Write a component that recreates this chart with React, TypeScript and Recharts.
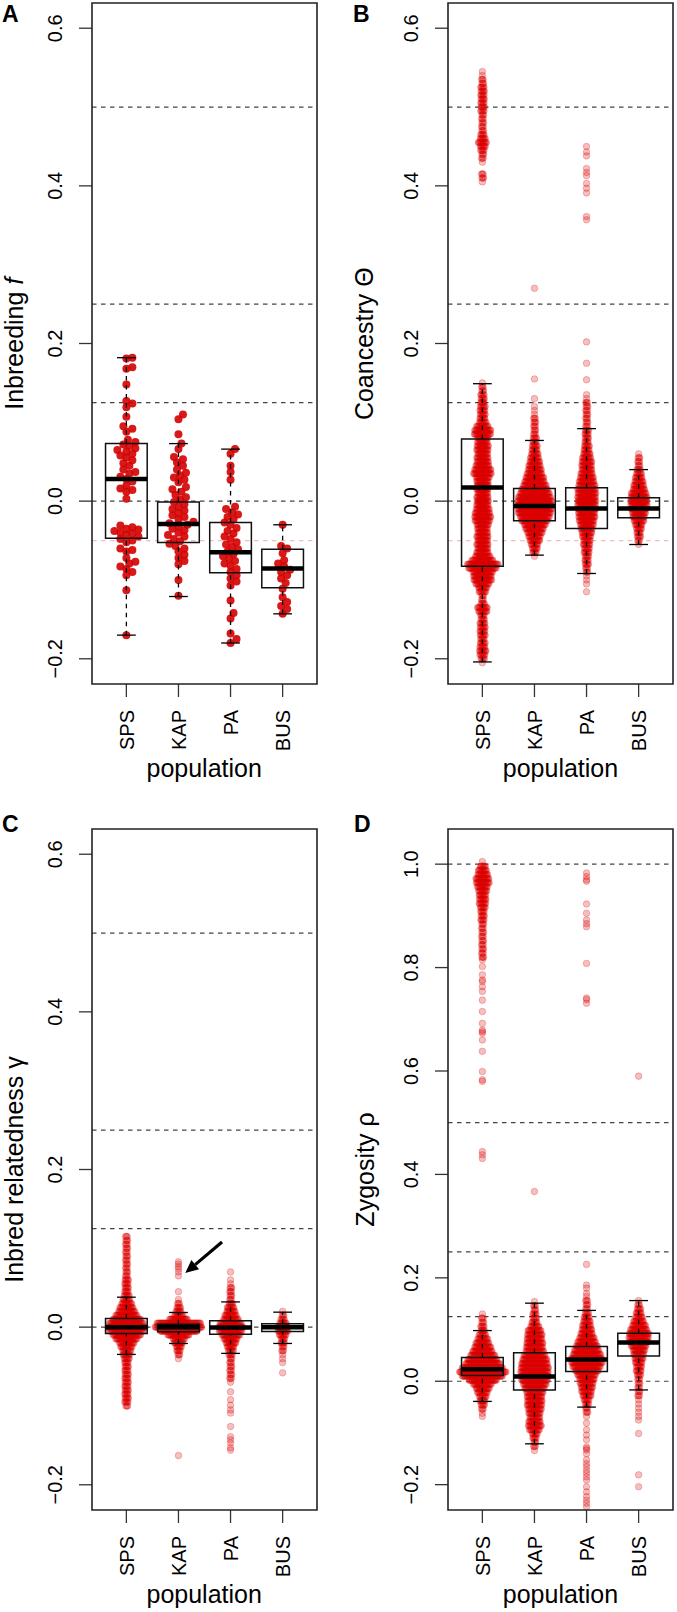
import React from "react";
import { ComposedChart, Scatter, XAxis, YAxis, ReferenceLine, ReferenceArea } from "recharts";

const FONT = '"Liberation Sans", Arial, Helvetica, sans-serif';
const groups = ["SPS", "KAP", "PA", "BUS"];

// ---- panel A: individual inbreeding f values (stripchart) ----
const spsF = [0.182, 0.181, 0.170, 0.168, 0.148, 0.127, 0.124, 0.119, 0.107, 0.095, 0.092, 0.088, 0.078, 0.075, 0.072, 0.070, 0.067, 0.065, 0.063, 0.060, 0.058, 0.055, 0.052, 0.048, 0.045, 0.040, 0.037, 0.035, 0.031, 0.028, 0.025, 0.020, 0.016, 0.014, 0.012, 0.003, -0.031, -0.033, -0.035, -0.036, -0.038, -0.040, -0.041, -0.043, -0.045, -0.048, -0.050, -0.052, -0.060, -0.062, -0.064, -0.072, -0.077, -0.079, -0.083, -0.086, -0.090, -0.094, -0.113, -0.170];
const kapF = [0.110, 0.104, 0.085, 0.073, 0.066, 0.056, 0.053, 0.049, 0.045, 0.040, 0.036, 0.033, 0.030, 0.027, 0.024, 0.018, 0.015, 0.012, 0.008, 0.005, 0.002, -0.001, -0.004, -0.007, -0.010, -0.012, -0.015, -0.018, -0.020, -0.023, -0.026, -0.028, -0.030, -0.032, -0.035, -0.037, -0.040, -0.043, -0.045, -0.048, -0.051, -0.054, -0.057, -0.060, -0.064, -0.068, -0.072, -0.076, -0.080, -0.100, -0.120];
const paF = [0.066, 0.060, 0.045, 0.037, 0.027, -0.007, -0.010, -0.014, -0.017, -0.020, -0.023, -0.027, -0.030, -0.034, -0.038, -0.041, -0.045, -0.048, -0.052, -0.055, -0.058, -0.061, -0.064, -0.067, -0.070, -0.073, -0.076, -0.079, -0.082, -0.086, -0.090, -0.094, -0.098, -0.102, -0.107, -0.126, -0.142, -0.149, -0.168, -0.175, -0.180];
const busF = [-0.030, -0.057, -0.060, -0.066, -0.075, -0.079, -0.083, -0.087, -0.090, -0.094, -0.098, -0.104, -0.111, -0.122, -0.128, -0.133, -0.137, -0.143];

// ---- panels B-D: beeswarm rows, [value, row size] ----
const spsTheta: [number, number][] = [[0.545,1],[0.54,1],[0.535,2],[0.53,2],[0.525,3],[0.52,3],[0.515,3],[0.51,3],[0.505,3],[0.5,3],[0.495,3],[0.49,2],[0.485,2],[0.48,2],[0.475,2],[0.47,2],[0.465,3],[0.46,4],[0.455,6],[0.45,4],[0.445,3],[0.44,2],[0.435,2],[0.43,1],[0.415,2],[0.41,2],[0.405,1],
  [0.15,1],[0.145,2],[0.14,2],[0.135,3],[0.13,3],[0.125,3],[0.12,4],[0.115,4],[0.11,4],[0.105,4],[0.1,5],[0.095,8],[0.09,11],[0.085,11],[0.08,7],[0.075,7],[0.07,8],[0.065,8],[0.06,7],[0.055,8],[0.05,8],[0.045,9],[0.04,11],[0.035,12],[0.03,9],[0.025,8],[0.02,8],[0.015,8],[0.01,7],[0.005,8],[0,8],[-0.005,8],[-0.01,9],[-0.015,10],[-0.02,11],[-0.025,10],[-0.03,8],[-0.035,7],[-0.04,7],[-0.045,8],[-0.05,7],[-0.055,8],[-0.06,7],[-0.065,8],[-0.07,10],[-0.075,14],[-0.08,20],[-0.085,18],[-0.09,13],[-0.095,12],[-0.1,12],[-0.105,9],[-0.11,6],[-0.115,5],[-0.12,2],[-0.125,2],[-0.13,3],[-0.135,7],[-0.14,6],[-0.145,3],[-0.15,3],[-0.155,4],[-0.16,4],[-0.165,4],[-0.17,4],[-0.175,3],[-0.18,4],[-0.185,4],[-0.19,5],[-0.195,4],[-0.2,3],[-0.205,1]];
const kapTheta: [number, number][] = [[0.27,1],[0.155,1],[0.13,1],[0.12,1],[0.115,1],[0.11,1],[0.105,2],[0.1,2],[0.095,2],[0.09,2],[0.085,2],[0.08,3],[0.075,3],[0.07,4],[0.065,4],[0.06,5],[0.055,6],[0.05,7],[0.045,8],[0.04,9],[0.035,10],[0.03,12],[0.025,13],[0.02,15],[0.015,17],[0.01,19],[0.005,21],[0,22],[-0.005,22],[-0.01,22],[-0.015,21],[-0.02,19],[-0.025,17],[-0.03,14],[-0.035,12],[-0.04,10],[-0.045,8],[-0.05,7],[-0.055,5],[-0.06,4],[-0.065,3],[-0.07,1]];
const paTheta: [number, number][] = [[0.45,1],[0.443,1],[0.438,1],[0.422,1],[0.417,1],[0.413,1],[0.403,1],[0.397,1],[0.391,1],[0.361,1],[0.357,1],[0.202,1],[0.175,1],[0.154,1],[0.135,1],[0.13,1],[0.125,2],[0.12,2],[0.115,2],[0.11,2],[0.105,2],[0.1,2],[0.095,2],[0.09,3],[0.085,3],[0.08,3],[0.075,3],[0.07,4],[0.065,4],[0.06,5],[0.055,6],[0.05,7],[0.045,7],[0.04,7],[0.035,8],[0.03,9],[0.025,10],[0.02,11],[0.015,12],[0.01,12],[0.005,12],[0,12],[-0.005,12],[-0.01,12],[-0.015,11],[-0.02,11],[-0.025,10],[-0.03,9],[-0.035,8],[-0.04,7],[-0.045,6],[-0.05,5],[-0.055,5],[-0.06,4],[-0.065,4],[-0.07,3],[-0.075,3],[-0.08,3],[-0.085,2],[-0.09,2],[-0.095,1],[-0.1,1],[-0.105,1],[-0.115,1]];
const busTheta: [number, number][] = [[0.06,1],[0.055,2],[0.05,2],[0.045,2],[0.04,3],[0.035,4],[0.03,5],[0.025,6],[0.02,7],[0.015,8],[0.01,10],[0.005,11],[0,11],[-0.005,11],[-0.01,10],[-0.015,9],[-0.02,8],[-0.025,7],[-0.03,5],[-0.035,4],[-0.04,3],[-0.045,3],[-0.05,2],[-0.055,1]];

const spsGamma: [number, number][] = [[0.115,2],[0.11,2],[0.105,2],[0.1,2],[0.095,2],[0.09,2],[0.085,2],[0.08,2],[0.075,2],[0.07,2],[0.065,2],[0.06,3],[0.055,3],[0.05,3],[0.045,3],[0.04,4],[0.035,5],[0.03,7],[0.025,9],[0.02,11],[0.015,14],[0.01,18],[0.005,22],[0,24],[-0.005,22],[-0.01,18],[-0.015,14],[-0.02,10],[-0.025,8],[-0.03,6],[-0.035,5],[-0.04,4],[-0.045,3],[-0.05,3],[-0.055,3],[-0.06,3],[-0.065,3],[-0.07,3],[-0.075,3],[-0.08,3],[-0.085,3],[-0.09,3],[-0.095,3],[-0.1,2]];
const kapGamma: [number, number][] = [[0.083,1],[0.08,1],[0.077,1],[0.074,1],[0.07,1],[0.065,1],[0.045,1],[0.035,1],[0.03,2],[0.025,3],[0.02,4],[0.015,6],[0.01,12],[0.005,28],[0,30],[-0.005,24],[-0.01,14],[-0.015,8],[-0.02,6],[-0.025,4],[-0.03,3],[-0.035,2],[-0.04,1],[-0.163,1]];
const paGamma: [number, number][] = [[0.07,1],[0.06,1],[0.055,1],[0.05,2],[0.045,2],[0.04,2],[0.035,2],[0.03,3],[0.025,5],[0.02,6],[0.015,8],[0.01,10],[0.005,14],[0,16],[-0.005,15],[-0.01,12],[-0.015,9],[-0.02,7],[-0.025,5],[-0.03,4],[-0.035,3],[-0.04,2],[-0.045,2],[-0.05,2],[-0.055,2],[-0.06,2],[-0.065,2],[-0.07,1],[-0.082,1],[-0.092,1],[-0.099,1],[-0.105,1],[-0.109,1],[-0.126,1],[-0.139,1],[-0.143,1],[-0.147,1],[-0.153,1],[-0.156,1]];
const busGamma: [number, number][] = [[0.02,1],[0.015,2],[0.01,3],[0.005,5],[0,7],[-0.005,7],[-0.01,5],[-0.015,3],[-0.02,3],[-0.025,2],[-0.03,2],[-0.035,1],[-0.04,1],[-0.045,1],[-0.058,1]];

const spsRho: [number, number][] = [[1.005,1],[0.996,4],[0.988,6],[0.98,7],[0.972,9],[0.964,9],[0.956,7],[0.948,6],[0.94,5],[0.932,5],[0.924,5],[0.916,4],[0.908,3],[0.9,3],[0.892,3],[0.884,2],[0.876,2],[0.868,2],[0.86,2],[0.852,2],[0.844,2],[0.836,2],[0.828,2],[0.82,2],[0.815,1],[0.802,1],[0.786,1],[0.776,1],[0.773,1],[0.763,1],[0.754,1],[0.737,1],[0.715,1],[0.692,1],[0.679,1],[0.676,1],[0.673,1],[0.66,1],[0.638,1],[0.599,1],[0.583,1],[0.58,1],[0.444,1],[0.438,1],[0.431,1],
  [0.13,1],[0.122,2],[0.114,2],[0.106,3],[0.098,3],[0.09,5],[0.082,7],[0.074,9],[0.066,11],[0.058,13],[0.05,16],[0.042,19],[0.034,22],[0.026,26],[0.018,30],[0.01,26],[0.002,18],[-0.006,12],[-0.014,9],[-0.022,7],[-0.03,5],[-0.038,4],[-0.046,3],[-0.054,2],[-0.062,1],[-0.068,1]];
const kapRho: [number, number][] = [[0.367,1],[0.154,1],[0.146,2],[0.138,2],[0.13,3],[0.122,3],[0.114,4],[0.106,6],[0.098,9],[0.09,10],[0.082,10],[0.074,11],[0.066,11],[0.058,12],[0.05,14],[0.042,16],[0.034,17],[0.026,18],[0.018,18],[0.01,18],[0.002,17],[-0.006,15],[-0.014,13],[-0.022,11],[-0.03,10],[-0.038,10],[-0.046,10],[-0.054,9],[-0.062,8],[-0.07,7],[-0.078,8],[-0.086,9],[-0.094,7],[-0.102,4],[-0.11,3],[-0.118,2],[-0.126,2],[-0.134,1]];
const paRho: [number, number][] = [[0.983,1],[0.976,1],[0.97,1],[0.967,1],[0.923,1],[0.905,1],[0.892,1],[0.885,1],[0.879,1],[0.808,1],[0.741,1],[0.738,1],[0.731,1],
  [0.226,1],[0.186,1],[0.18,1],[0.17,1],[0.164,1],[0.156,2],[0.148,2],[0.14,2],[0.132,3],[0.124,4],[0.116,5],[0.108,6],[0.1,7],[0.092,8],[0.084,10],[0.076,12],[0.068,14],[0.06,16],[0.052,18],[0.044,20],[0.036,20],[0.028,18],[0.02,15],[0.012,12],[0.004,10],[-0.004,9],[-0.012,8],[-0.02,7],[-0.028,6],[-0.036,4],[-0.044,3],[-0.052,2],[-0.06,2],[-0.068,1],[-0.081,1],[-0.094,1],[-0.104,1],[-0.113,1],[-0.127,1],[-0.13,1],[-0.133,1],[-0.14,1],[-0.152,1],[-0.159,1],[-0.165,1],[-0.172,1],[-0.178,1],[-0.185,1],[-0.191,1],[-0.204,1],[-0.214,1],[-0.223,1],[-0.23,1],[-0.236,1],[-0.243,1]];
const busRho: [number, number][] = [[0.59,1],[0.156,1],[0.148,2],[0.14,3],[0.132,4],[0.124,5],[0.116,7],[0.108,9],[0.1,11],[0.092,13],[0.084,13],[0.076,12],[0.068,10],[0.06,8],[0.052,7],[0.044,6],[0.036,5],[0.028,4],[0.02,4],[0.012,3],[0.004,2],[-0.004,2],[-0.012,2],[-0.02,2],[-0.028,2],[-0.036,1],[-0.044,1],[-0.052,1],[-0.06,1],[-0.068,1],[-0.075,1],[-0.101,1],[-0.181,1],[-0.204,1]];

// box stats per group: [lower whisker, q1, median, q3, upper whisker]
const boxF = [[-0.170, -0.047, 0.028, 0.073, 0.182], [-0.121, -0.0525, -0.029, -0.001, 0.073], [-0.180, -0.091, -0.065, -0.027, 0.066], [-0.143, -0.110, -0.0855, -0.061, -0.030]];
const boxTheta = [[-0.204, -0.0825, 0.0174, 0.0787, 0.149], [-0.0685, -0.025, -0.0063, 0.016, 0.077], [-0.0918, -0.0347, -0.0093, 0.017, 0.092], [-0.055, -0.021, -0.0093, 0.0042, 0.040]];
const boxGamma = [[-0.0346, -0.008, 0.0, 0.011, 0.038], [-0.0207, -0.006, 0.0, 0.0038, 0.0186], [-0.0333, -0.0089, -0.0004, 0.008, 0.032], [-0.0207, -0.0055, 0.0, 0.0042, 0.019]];
const boxRho = [[-0.039, 0.011, 0.023, 0.0457, 0.098], [-0.121, -0.0168, 0.009, 0.0553, 0.151], [-0.050, 0.019, 0.042, 0.067, 0.137], [-0.0168, 0.049, 0.0747, 0.093, 0.156]];

// expected relationship levels (dashed lines)
const levels = [0.5, 0.25, 0.125, 0];
const levelsRho = [1, 0.5, 0.25, 0.125, 0];
const ticksMain = [-0.2, 0, 0.2, 0.4, 0.6];
const ticksRho = [-0.2, 0, 0.2, 0.4, 0.6, 0.8, 1.0];

const PX_PER_CAT = 52.08;
const STEP = 1.6;

function swarm(g: number, vals: number[], pxPerY: number) {
  const sorted = [...vals].sort((a, b) => a - b);
  const placed: { dx: number; py: number }[] = [];
  return sorted.map((v) => {
    const py = v * pxPerY;
    let dx = 0;
    for (let k = 0; k < 40; k++) {
      const cand = (k % 2 ? 1 : -1) * Math.ceil(k / 2) * 1.5;
      if (placed.every((p) => Math.hypot(p.dx - cand, p.py - py) >= 6)) { dx = cand; break; }
    }
    placed.push({ dx, py });
    return { x: g + dx / PX_PER_CAT, y: v };
  });
}

// lay a row of n dots side by side (packed at half step so dense rows read as solid)
function rows(g: number, bins: [number, number][]) {
  const out: { x: number; y: number }[] = [];
  const s = STEP / 2;
  bins.forEach(([v, n], r) => {
    const m = n > 1 ? 2 * n - 1 : 1;
    for (let k = 0; k < m; k++) {
      const px = (k - (m - 1) / 2) * s + (n > 1 && r % 2 ? s / 2 : 0);
      out.push({ x: g + px / PX_PER_CAT, y: v });
    }
  });
  return out;
}

const SolidDot = (p: any) => <circle cx={p.cx} cy={p.cy} r={4} fill="#d40000" fillOpacity={0.9} />;
const SoftDot = (p: any) => (
  <circle cx={p.cx} cy={p.cy} r={3.3} fill="#dd0000" fillOpacity={0.25} stroke="#dd0000" strokeOpacity={0.3} strokeWidth={0.8} />
);

const YTick = ({ x, y, payload }: any) => {
  const tx = x - 17;
  const v = Number(payload.value);
  const label = (v < 0 ? "\u2212" : "") + Math.abs(v).toFixed(1);
  return (
    <text x={tx} y={y} transform={`rotate(-90, ${tx}, ${y})`} textAnchor="middle" fontSize={20} fontFamily={FONT} fill="#000">
      {label}
    </text>
  );
};

const XTick = ({ x, y, payload }: any) => {
  const tx = x + 7.5, ty = y + 13;
  return (
    <text x={tx} y={ty} transform={`rotate(-90, ${tx}, ${ty})`} textAnchor="end" fontSize={20} fontFamily={FONT} fill="#000">
      {groups[payload.value - 1]}
    </text>
  );
};

const arrowShape = (p: any) => {
  const { x1, y1, x2, y2 } = p;
  const ang = Math.atan2(y2 - y1, x2 - x1);
  const L = 13, W = 6;
  const bx = x2 - L * Math.cos(ang), by = y2 - L * Math.sin(ang);
  const nx = -Math.sin(ang) * W, ny = Math.cos(ang) * W;
  return (
    <g>
      <line x1={x1} y1={y1} x2={bx} y2={by} stroke="#000" strokeWidth={3.2} />
      <polygon points={`${x2},${y2} ${bx + nx},${by + ny} ${bx - nx},${by - ny}`} fill="#000" />
    </g>
  );
};

type PanelProps = {
  left: number; top: number; width: number; height: number;
  yAxisWidth: number; rightMargin: number; xAxisHeight: number;
  domain: [number, number]; ticks: number[]; hLines: number[];
  series: { x: number; y: number }[][]; solid?: boolean;
  boxes: number[][]; pink?: boolean; arrow?: boolean;
};

function Panel(p: PanelProps) {
  const dash = "4.5 4.5";
  return (
    <div style={{ position: "absolute", left: p.left, top: p.top }}>
      <ComposedChart width={p.width} height={p.height} margin={{ top: 3, right: p.rightMargin, bottom: 0, left: 0 }}>
        <XAxis type="number" dataKey="x" domain={[0.34, 4.66]} ticks={[1, 2, 3, 4]} allowDataOverflow
          axisLine={false} tickSize={13} tickMargin={0} tickLine={{ stroke: "#333", strokeWidth: 1.3 }}
          height={p.xAxisHeight} tick={<XTick />} interval={0} />
        <YAxis type="number" dataKey="y" domain={p.domain} ticks={p.ticks} allowDataOverflow
          axisLine={false} tickSize={13} tickMargin={0} tickLine={{ stroke: "#333", strokeWidth: 1.3 }}
          width={p.yAxisWidth} tick={<YTick />} interval={0} />
        {p.pink && <ReferenceLine y={-0.05} stroke="#f4bcbc" strokeWidth={1.2} strokeDasharray={dash} />}
        {p.hLines.map((v) => (
          <ReferenceLine key={"h" + v} y={v} stroke="#444" strokeWidth={1.2} strokeDasharray={dash} />
        ))}
        {p.series.map((pts, i) => (
          <Scatter key={"s" + i} data={pts} shape={p.solid ? SolidDot : SoftDot} isAnimationActive={false} />
        ))}
        {p.boxes.map(([lo, q1, med, q3, hi], i) => {
          const g = i + 1;
          return [
            <ReferenceLine key={"wu" + i} segment={[{ x: g, y: q3 }, { x: g, y: hi }]} stroke="#000" strokeWidth={1.3} strokeDasharray={dash} zIndex={650} />,
            <ReferenceLine key={"wl" + i} segment={[{ x: g, y: lo }, { x: g, y: q1 }]} stroke="#000" strokeWidth={1.3} strokeDasharray={dash} zIndex={650} />,
            <ReferenceLine key={"cu" + i} segment={[{ x: g - 0.18, y: hi }, { x: g + 0.18, y: hi }]} stroke="#000" strokeWidth={1.3} zIndex={650} />,
            <ReferenceLine key={"cl" + i} segment={[{ x: g - 0.18, y: lo }, { x: g + 0.18, y: lo }]} stroke="#000" strokeWidth={1.3} zIndex={650} />,
            <ReferenceArea key={"b" + i} x1={g - 0.4} x2={g + 0.4} y1={q1} y2={q3} fill="none" fillOpacity={0} stroke="#111" strokeWidth={1.5} ifOverflow="visible" zIndex={650} />,
            <ReferenceLine key={"m" + i} segment={[{ x: g - 0.4, y: med }, { x: g + 0.4, y: med }]} stroke="#000" strokeWidth={4.5} zIndex={660} />,
          ];
        })}
        {p.arrow && (
          <ReferenceLine segment={[{ x: 2.836, y: 0.108 }, { x: 2.131, y: 0.0687 }]} shape={arrowShape} zIndex={700} ifOverflow="visible" />
        )}
        <ReferenceArea x1={0.34} x2={4.66} y1={p.domain[0]} y2={p.domain[1]} fill="none" fillOpacity={0}
          stroke="#222" strokeWidth={1.6} ifOverflow="visible" zIndex={700} />
      </ComposedChart>
    </div>
  );
}

const txt = { fontFamily: FONT, fill: "#000" } as const;

export default function App() {
  const domMain: [number, number] = [-0.232, 0.632];
  const domRho: [number, number] = [-0.249, 1.068];
  const pxMain = 788;
  const A = [spsF, kapF, paF, busF].map((v, i) => swarm(i + 1, v, pxMain));
  const B = [spsTheta, kapTheta, paTheta, busTheta].map((b, i) => rows(i + 1, b));
  const C = [spsGamma, kapGamma, paGamma, busGamma].map((b, i) => rows(i + 1, b));
  const D = [spsRho, kapRho, paRho, busRho].map((b, i) => rows(i + 1, b));

  return (
    <div style={{ position: "absolute", left: 0, top: 0, width: 677, height: 1612, overflow: "hidden", background: "#fff" }}>
      <Panel left={0} top={0} width={338} height={800} yAxisWidth={92} rightMargin={21} xAxisHeight={116}
        domain={domMain} ticks={ticksMain} hLines={levels} series={A} solid boxes={boxF} pink />
      <Panel left={338} top={0} width={339} height={800} yAxisWidth={110} rightMargin={4} xAxisHeight={116}
        domain={domMain} ticks={ticksMain} hLines={levels} series={B} boxes={boxTheta} pink />
      <Panel left={0} top={826} width={338} height={786} yAxisWidth={92} rightMargin={21} xAxisHeight={102}
        domain={domMain} ticks={ticksMain} hLines={levels} series={C} boxes={boxGamma} arrow />
      <Panel left={338} top={826} width={339} height={786} yAxisWidth={110} rightMargin={4} xAxisHeight={102}
        domain={domRho} ticks={ticksRho} hLines={levelsRho} series={D} boxes={boxRho} />

      <svg width={677} height={1612} style={{ position: "absolute", left: 0, top: 0, pointerEvents: "none" }}>
        <text x={2} y={22} fontSize={23} fontWeight="bold" {...txt}>A</text>
        <text x={353} y={22} fontSize={23} fontWeight="bold" {...txt}>B</text>
        <text x={2} y={832} fontSize={23} fontWeight="bold" {...txt}>C</text>
        <text x={354} y={832} fontSize={23} fontWeight="bold" {...txt}>D</text>

        <text x={23} y={343.7} transform="rotate(-90, 23, 343.7)" textAnchor="middle" fontSize={25} {...txt}>
          Inbreeding <tspan fontStyle="italic">f</tspan>
        </text>
        <text x={373} y={343.7} transform="rotate(-90, 373, 343.7)" textAnchor="middle" fontSize={25} {...txt}>
          Coancestry Θ
        </text>
        <text x={23} y={1169.5} transform="rotate(-90, 23, 1169.5)" textAnchor="middle" fontSize={25} {...txt}>
          Inbred relatedness γ
        </text>
        <text x={374} y={1169.5} transform="rotate(-90, 374, 1169.5)" textAnchor="middle" fontSize={25} {...txt}>
          Zygosity ρ
        </text>

        <text x={204.2} y={777} textAnchor="middle" fontSize={25} {...txt}>population</text>
        <text x={560.5} y={777} textAnchor="middle" fontSize={25} {...txt}>population</text>
        <text x={204.2} y={1603} textAnchor="middle" fontSize={25} {...txt}>population</text>
        <text x={560.5} y={1603} textAnchor="middle" fontSize={25} {...txt}>population</text>
      </svg>
    </div>
  );
}
